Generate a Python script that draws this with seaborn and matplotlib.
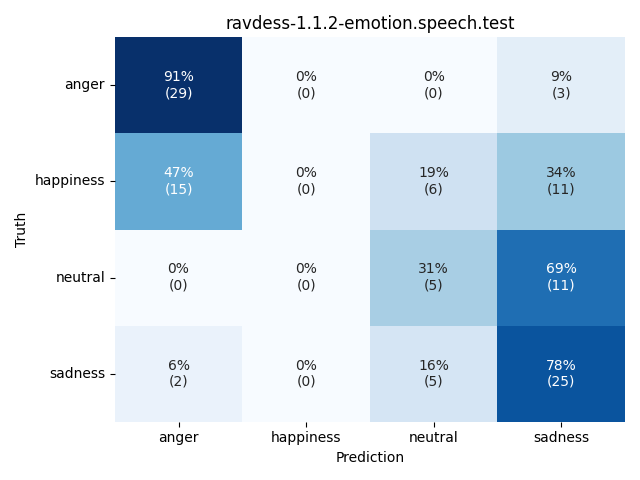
import numpy as np
import matplotlib
matplotlib.use("Agg")
import matplotlib.pyplot as plt
import seaborn as sns

# -----------------------------
# Data
# -----------------------------
labels = ["anger", "happiness", "neutral", "sadness"]
counts = np.array([
    [29, 0, 0, 3],
    [15, 0, 6, 11],
    [0, 0, 5, 11],
    [2, 0, 5, 25],
])
title = "ravdess-1.1.2-emotion.speech.test"

# -----------------------------
# Percentages + annotation text
# -----------------------------
pct = 100 * counts / counts.sum(axis=1, keepdims=True)
annot = np.array([
    [f"{pct[i, j]:.0f}%\n({counts[i, j]})" for j in range(counts.shape[1])]
    for i in range(counts.shape[0])
])

# -----------------------------
# Plot
# -----------------------------
fig = plt.figure(figsize=(6.4, 4.8), dpi=100)
ax = sns.heatmap(
    pct,
    annot=annot,
    fmt="",
    cmap="Blues",
    cbar=False,
    vmin=0,
    xticklabels=labels,
    yticklabels=labels,
)
ax.set_xlabel("Prediction")
ax.set_ylabel("Truth")
ax.set_title(title)
plt.yticks(rotation=0)
plt.tight_layout()
plt.savefig("out.png", dpi=100)
